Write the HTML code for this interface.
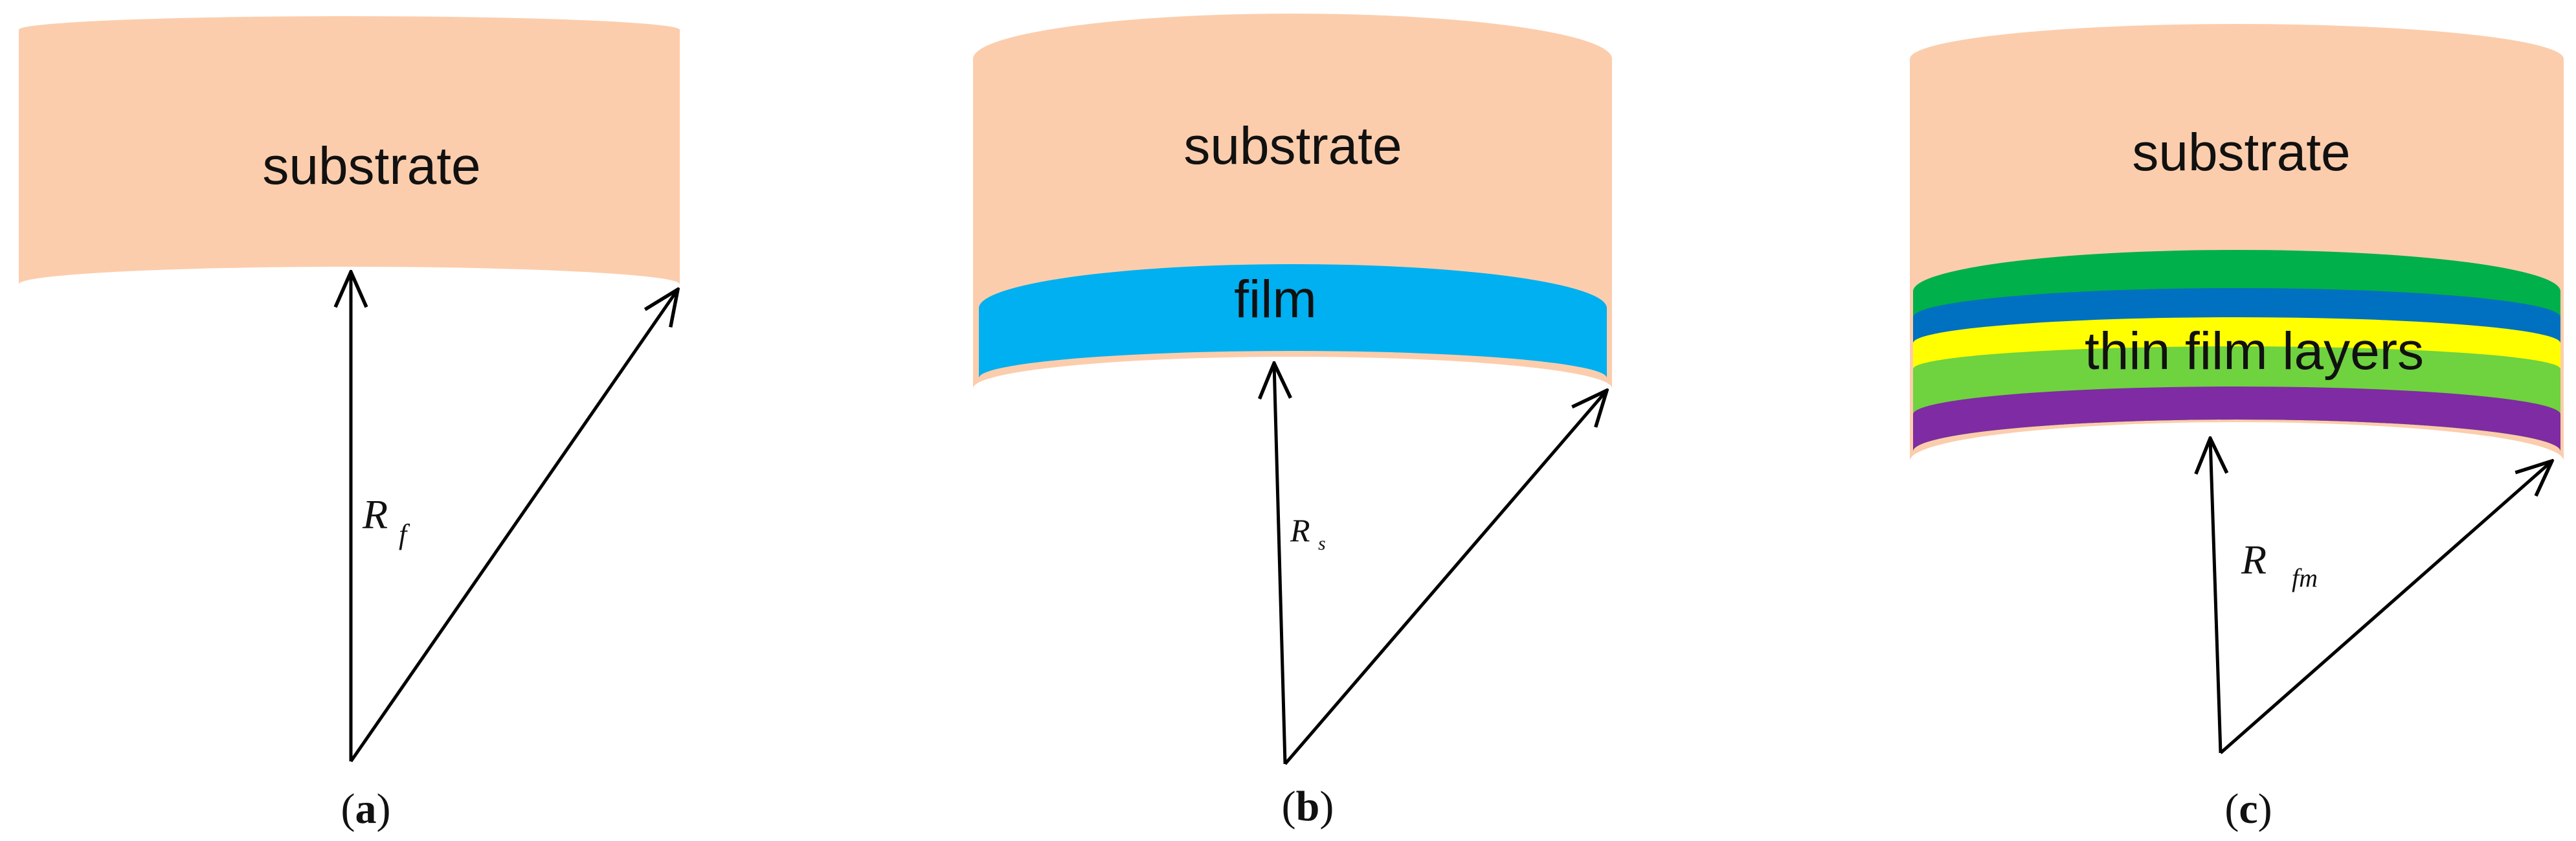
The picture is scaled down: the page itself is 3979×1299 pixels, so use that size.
<!DOCTYPE html>
<html><head><meta charset="utf-8"><style>
html,body{margin:0;padding:0;background:#fff;}
svg{display:block;}
.s{font-family:"Liberation Sans",sans-serif;font-size:82px;fill:#111;text-anchor:middle;}
.m{font-family:"Liberation Serif",serif;font-style:italic;fill:#111;}
.c{font-family:"Liberation Serif",serif;font-size:66px;fill:#111;text-anchor:middle;}
</style></head><body>
<svg width="3979" height="1299" viewBox="0 0 3979 1299" xmlns="http://www.w3.org/2000/svg">
<defs>
<marker id="ah" viewBox="0 0 20 20" refX="19" refY="10" markerWidth="64" markerHeight="64" markerUnits="userSpaceOnUse" orient="auto">
<path d="M2,2.5 L19,10 L2,17.5" fill="none" stroke="#000" stroke-width="1.7"/>
</marker>
</defs>
<!-- Panel a -->
<path d="M29,46 A510.5,21 0 0 1 1050,46 L1050,439 A510.5,27 0 0 0 29,439 Z" fill="#FCCDAC"/>
<text class="s" x="574" y="284">substrate</text>
<line x1="542" y1="1176" x2="542" y2="420" stroke="#000" stroke-width="5" marker-end="url(#ah)"/>
<line x1="542" y1="1176" x2="1047" y2="447" stroke="#000" stroke-width="5" marker-end="url(#ah)"/>
<text class="m" x="560" y="816" font-size="64">R</text>
<text class="m" x="616" y="840" font-size="44">f</text>
<text class="c" x="565" y="1271">(<tspan font-weight="bold">a</tspan>)</text>

<!-- Panel b -->
<path d="M1503,91 A493.5,70 0 0 1 2490,91 L2490,600 A493.5,49 0 0 0 1503,600 Z" fill="#FCCDAC"/>
<path d="M1512,476 A485,68 0 0 1 2482,476 L2482,584 A485,42 0 0 0 1512,584 Z" fill="#00B0F0"/>
<text class="s" x="1997" y="253">substrate</text>
<text class="s" x="1970" y="490">film</text>
<line x1="1985" y1="1180" x2="1968" y2="561" stroke="#000" stroke-width="5" marker-end="url(#ah)"/>
<line x1="1985" y1="1180" x2="2482" y2="603" stroke="#000" stroke-width="5" marker-end="url(#ah)"/>
<text class="m" x="1993" y="836" font-size="50">R</text>
<text class="m" x="2036" y="849" font-size="30">s</text>
<text class="c" x="2020" y="1267">(<tspan font-weight="bold">b</tspan>)</text>

<!-- Panel c -->
<path d="M2950,91 A505,54 0 0 1 3960,91 L3960,712 A505,60 0 0 0 2950,712 Z" fill="#FCCDAC"/>
<path d="M2955,450 A500,64 0 0 1 3955,450 L3955,697 A500,49 0 0 0 2955,697 Z" fill="#00B04A"/>
<path d="M2955,490 A500,45 0 0 1 3955,490 L3955,697 A500,49 0 0 0 2955,697 Z" fill="#0070C0"/>
<path d="M2955,530 A500,40 0 0 1 3955,530 L3955,697 A500,49 0 0 0 2955,697 Z" fill="#FFFF00"/>
<path d="M2955,570 A500,35 0 0 1 3955,570 L3955,697 A500,49 0 0 0 2955,697 Z" fill="#6FD23F"/>
<path d="M2955,640 A500,43 0 0 1 3955,640 L3955,697 A500,49 0 0 0 2955,697 Z" fill="#7F2BA3"/>
<text class="s" x="3462" y="263">substrate</text>
<text class="s" x="3482" y="570">thin film layers</text>
<line x1="3430" y1="1163" x2="3414" y2="677" stroke="#000" stroke-width="5" marker-end="url(#ah)"/>
<line x1="3430" y1="1163" x2="3942" y2="712" stroke="#000" stroke-width="5" marker-end="url(#ah)"/>
<text class="m" x="3462" y="886" font-size="64">R</text>
<text class="m" x="3540" y="906" font-size="40">fm</text>
<text class="c" x="3473" y="1271">(<tspan font-weight="bold">c</tspan>)</text>
</svg>
</body></html>
